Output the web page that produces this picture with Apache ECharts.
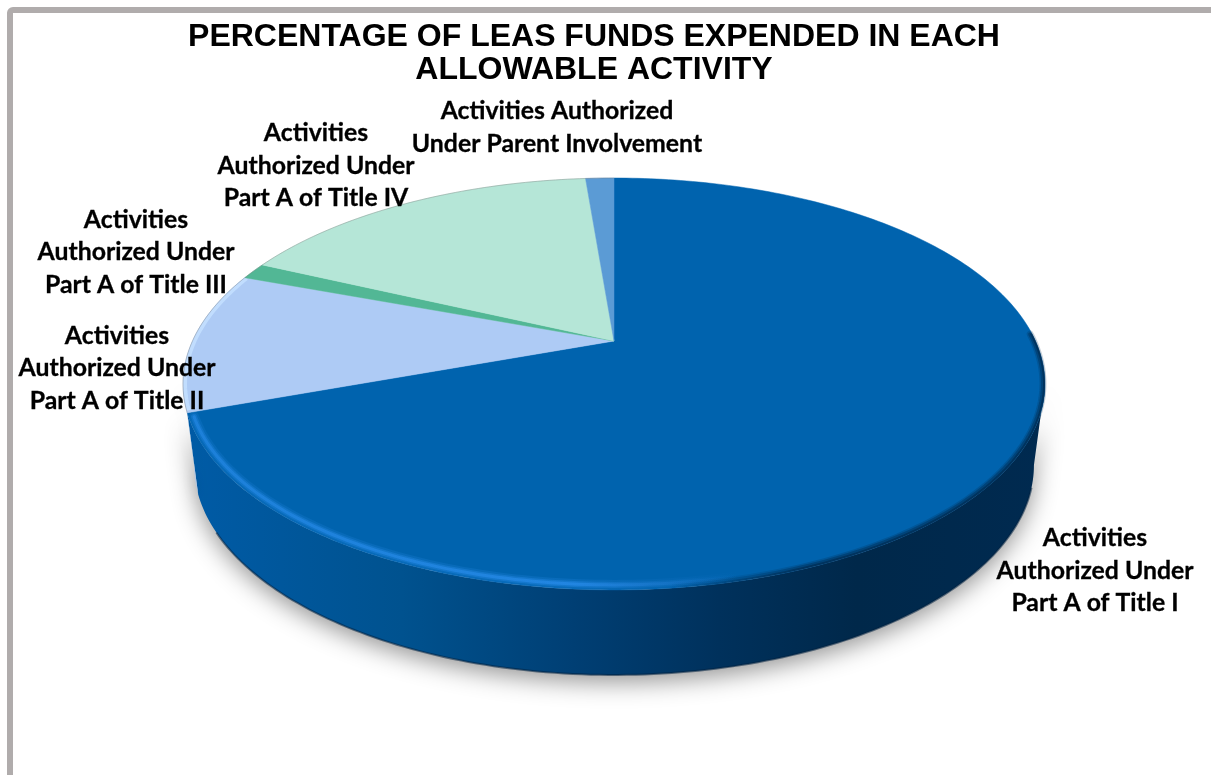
<!DOCTYPE html>
<html>
<head>
<meta charset="utf-8">
<title>LEA funds by allowable activity</title>
<style>html,body{margin:0;padding:0;background:#fff}#chart{width:1211px;height:775px}</style>
<script src="https://cdn.jsdelivr.net/npm/echarts@6/dist/echarts.min.js"></script>
</head>
<body>
<div id="chart"></div>
<script>
// Share of funds per activity, in percent, clockwise from twelve o'clock.
const categories = [
  'Activities\nAuthorized Under\nPart A of Title I',
  'Activities\nAuthorized Under\nPart A of Title II',
  'Activities\nAuthorized Under\nPart A of Title III',
  'Activities\nAuthorized Under\nPart A of Title IV',
  'Activities Authorized\nUnder Parent Involvement'
];
const shares = [69.5, 11.1, 1.3, 16.8, 1.3];
const faceColors = ['#0063ae', '#aecbf5', '#52b795', '#b5e6d7', '#5b9bd5'];
const labelAnchors = [[1095, 571], [117, 368.5], [136, 252.5], [316, 166], [557, 127.5]];
const titleLines = 'PERCENTAGE OF LEAS FUNDS EXPENDED IN EACH\nALLOWABLE ACTIVITY';

// Perspective disc: a unit circle seen from above and in front.
const tilt = 0.2087;
const topRim = { cx: 614, cy: 341, rx: 421.5, ry: 197 };
const bottomRim = { cx: 614, cy: 421.2, rx: 410.7, ry: 200.8 };
const frontStart = Math.acos(-tilt) * 180 / Math.PI;
const frontEnd = 360 - frontStart;

function project(rim, deg) {
  const a = deg * Math.PI / 180;
  const u = Math.sin(a), v = -Math.cos(a), w = 1 - tilt * v;
  return [rim.cx + rim.rx * u / w, rim.cy + rim.ry * v / w];
}
function arc(rim, from, to) {
  const pts = [];
  const n = Math.max(2, Math.ceil(Math.abs(to - from)));
  for (let i = 0; i <= n; i++) pts.push(project(rim, from + (to - from) * i / n));
  return pts;
}
function sliceRange(index) {
  const total = shares.reduce((s, v) => s + v, 0);
  let start = 0;
  for (let i = 0; i < index; i++) start += shares[i];
  return [start / total * 360, (start + shares[index]) / total * 360];
}
function hGradient(stops) {
  return {
    type: 'linear', x: 0, y: 0, x2: 1, y2: 0,
    colorStops: stops.map(s => ({ offset: s[0], color: s[1] }))
  };
}
function bevelGradient(stops) {
  return {
    type: 'linear', global: true, x: 190, y: 0, x2: 1046, y2: 0,
    colorStops: stops.map(s => ({ offset: s[0], color: s[1] }))
  };
}
function inset(n) {
  return { cx: topRim.cx, cy: topRim.cy, rx: topRim.rx - n, ry: topRim.ry - n * 0.8 };
}

// Side wall: the front part of each slice's rim extruded down to the lower rim.
function renderWall(params) {
  const [a, b] = sliceRange(params.dataIndex);
  const from = Math.max(a, frontStart), to = Math.min(b, frontEnd);
  if (to <= from) return { type: 'group', children: [] };
  const points = arc(topRim, from, to).concat(arc(bottomRim, to, from));
  const main = params.dataIndex === 0;
  const children = [{
    type: 'polygon',
    shape: { points },
    style: main ? {
      fill: hGradient([[0, '#005ba6'], [0.25, '#00528f'], [0.45, '#003f74'], [0.62, '#00315c'], [0.78, '#00284a'], [1, '#002a50']]),
      shadowBlur: 24, shadowOffsetY: 7, shadowColor: 'rgba(0,0,0,0.42)'
    } : { fill: '#b3c8e4', shadowBlur: 10, shadowOffsetY: 5, shadowColor: 'rgba(0,0,0,0.25)' }
  }];
  if (main) {
    children.push({
      type: 'polyline',
      shape: { points: arc(bottomRim, from + 6, to - 10) },
      style: { fill: null, stroke: 'rgba(0,32,64,0.55)', lineWidth: 2 }
    });
  }
  return { type: 'group', children };
}

// Top face of a slice with a soft bevel painted along its outer edge.
function renderFace(params, api) {
  const i = params.dataIndex;
  const [a, b] = sliceRange(i);
  const apex = [topRim.cx, topRim.cy];
  const rimPts = arc(topRim, a, b);
  const children = [{
    type: 'polygon',
    shape: { points: [apex].concat(rimPts) },
    style: { fill: api.visual('color'), stroke: api.visual('color'), lineWidth: 0.5 }
  }];
  if (i === 0) {
    // Lit edge on the left of the front rim.
    [[5, 10, 0.16], [5, 6, 0.3], [5, 3, 0.5]].forEach(([n, width, alpha]) => {
      children.push({
        type: 'polyline',
        shape: { points: arc(inset(n), 150, b - 1.5) },
        style: {
          fill: null, lineWidth: width, lineCap: 'round',
          stroke: bevelGradient([
            [0, `rgba(40,140,235,${alpha})`],
            [0.45, `rgba(40,140,235,${alpha * 1.3})`],
            [0.56, `rgba(40,130,220,${alpha * 0.6})`],
            [0.64, 'rgba(40,130,220,0)'],
            [1, 'rgba(40,130,220,0)']
          ])
        }
      });
    });
    // Shaded edge on the right of the front rim.
    [[2, 7, 0.22], [2, 4, 0.4], [1, 2, 0.6]].forEach(([n, width, alpha]) => {
      children.push({
        type: 'polyline',
        shape: { points: arc(inset(n), 88, 190) },
        style: {
          fill: null, lineWidth: width, lineCap: 'round',
          stroke: bevelGradient([
            [0, 'rgba(0,40,76,0)'],
            [0.56, 'rgba(0,40,76,0)'],
            [0.72, `rgba(0,40,76,${alpha})`],
            [1, `rgba(0,40,76,${alpha})`]
          ])
        }
      });
    });
  }
  if (i === 1) {
    children.push({
      type: 'polyline',
      shape: { points: arc({ cx: topRim.cx, cy: topRim.cy, rx: topRim.rx - 2, ry: topRim.ry - 2 }, a + 0.5, b) },
      style: { fill: null, lineWidth: 4, stroke: 'rgba(196,224,255,0.85)' }
    });
  }
  if (i !== 0) {
    children.push({
      type: 'polyline',
      shape: { points: arc(topRim, a, b) },
      style: { fill: null, lineWidth: 1, stroke: 'rgba(110,110,110,0.35)' }
    });
  }
  return { type: 'group', children };
}

function renderLabel(params) {
  const pos = labelAnchors[params.dataIndex];
  return {
    type: 'text',
    style: {
      x: pos[0], y: pos[1], text: categories[params.dataIndex],
      align: 'center', verticalAlign: 'middle', lineHeight: 32.5,
      fill: '#000', font: 'bold 24.8px Lato', stroke: '#000', lineWidth: 0.3
    }
  };
}

const sliceData = shares.map((value, i) => ({ value, name: categories[i], itemStyle: { color: faceColors[i] } }));

const chart = echarts.init(document.getElementById('chart'), null, { renderer: 'canvas' });
chart.setOption({
  animation: false,
  backgroundColor: '#ffffff',
  title: {
    text: titleLines, left: 589, top: 16, textAlign: 'center',
    textStyle: { fontFamily: 'Liberation Sans', fontWeight: 'bold', fontSize: 32, lineHeight: 33, color: '#000' }
  },
  graphic: [{
    type: 'rect', silent: true, z: 0,
    shape: { x: 10, y: 10, width: 1400, height: 1000, r: 3 },
    style: { fill: null, stroke: '#b0acac', lineWidth: 6 }
  }],
  series: [
    { type: 'custom', coordinateSystem: 'none', silent: true, z: 2, data: sliceData, renderItem: renderWall },
    { type: 'custom', coordinateSystem: 'none', silent: true, z: 3, data: sliceData, renderItem: renderFace },
    { type: 'custom', coordinateSystem: 'none', silent: true, z: 4, data: sliceData, renderItem: renderLabel }
  ]
});
</script>
</body>
</html>
